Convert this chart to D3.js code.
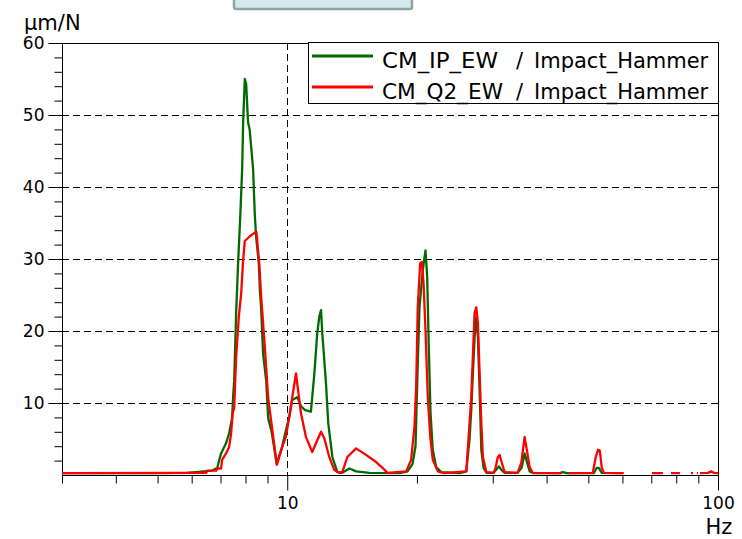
<!DOCTYPE html>
<html>
<head>
<meta charset="utf-8">
<script src="https://cdn.jsdelivr.net/npm/d3@7"></script>
<style>
  body { margin: 0; background: #fff; }
  svg { display: block; font-family: "DejaVu Sans", sans-serif; }
</style>
</head>
<body>
<div class="chart"></div>
<script>
// chart size
var width = 742;
var height = 539;

// series: frequency (Hz) and amplitude (um/N), null = gap
var ipFreq = [3, 5.04, 5.85, 6.41, 6.69, 6.88, 7.02, 7.21, 7.33, 7.45, 7.49, 7.53, 7.61, 7.69, 7.78, 7.86, 7.90, 7.97,
  8.03, 8.11, 8.18, 8.25, 8.33, 8.41, 8.47, 8.59, 8.64, 8.70, 8.79, 8.94, 9.03, 9.20, 9.45, 9.71, 9.93, 10.11, 10.27,
  10.55, 10.78, 11.01, 11.35, 11.56, 11.74, 11.87, 11.98, 12.06, 12.30, 12.45, 12.73, 13.07, 13.42, 13.94, 14.45,
  15.51, 18.22, 19.02, 19.53, 19.85, 20.09, 20.28, 20.64, 20.94, 21.13, 21.31, 21.51, 21.77, 22.17, 22.78, 25.12,
  26.04, 26.50, 26.74, 26.97, 27.22, 27.47, 27.71, 27.96, 28.22, 28.56, 29.03, 30.14, 30.62, 31.00, 31.45, 31.96,
  34.26, 35.00, 35.57, 35.95, 36.54, 37.33, 42.92, 43.61, 44.56, 51.48, 52.31, 52.88, 53.73, 59.79];
var ipVal = [0.25, 0.25, 0.3, 0.5, 0.6, 1.0, 3.0, 4.4, 5.8, 8.0, 11, 13, 22.5, 29.4, 36, 42.6, 49, 55,
  54.3, 49, 48, 45.4, 42.6, 36, 33, 29.4, 25.7, 23, 16.8, 13, 7.9, 6, 1.6, 3.7, 6.2, 8.1, 10.4,
  10.8, 9.5, 9.0, 8.8, 14.1, 19.7, 22, 22.9, 19.7, 12.8, 7.2, 2.5, 0.4, 0.3, 0.9, 0.5,
  0.3, 0.25, 0.5, 1.5, 4, 15.5, 23.3, 28.5, 31.2, 27.5, 17.8, 8.6, 3.5, 1.1, 0.4, 0.25,
  0.5, 5, 9, 14, 19, 22, 19.2, 11.8, 3.5, 1.0, 0.3, 0.3, 0.8, 1.2, 0.7, 0.3,
  0.3, 1.0, 3.0, 2.0, 0.5, 0.25, 0.25, 0.4, 0.25, 0.25, 1.0, 1.0, 0.3, 0.25];

var q2Freq = [3, 5.85, 6.48, 6.52, 6.84, 6.88, 7.02, 7.06, 7.21, 7.33, 7.41, 7.47, 7.53, 7.61, 7.72, 7.82, 7.89, 7.97,
  8.20, 8.48, 8.61, 8.70, 8.87, 9.03, 9.20, 9.46, 9.71, 9.93, 10.11, 10.27, 10.48, 10.55, 10.76, 11.05, 11.43, 11.66,
  11.98, 12.19, 12.52, 12.86, 13.21, 13.42, 13.79, 14.45, 15.24, 16.08, 16.64, 17.09, 18.88, 19.39, 19.74, 19.92,
  20.09, 20.35, 20.53, 20.72, 20.94, 21.20, 21.48, 21.77, 22.37, 23.18, 26.04, 26.50, 26.74, 26.97, 27.22, 27.47,
  27.71, 27.96, 28.22, 28.46, 28.98, 30.14, 30.46, 30.79, 31.12, 31.45, 31.96, 34.26, 34.95, 35.25, 35.57, 35.90,
  36.54, 37.13, 43.38, 44.2, 45.03, 51.20, 52.03, 52.67, 53.16, 53.73, 54.32, 60.44, 65, 70.24, 74.49, 76,
  77.75, 81.59, 84, 86.56, 87.49, 88.4, 89.39, 89.86, 90.3, 90.82, 94.80, 96.34, 97.90, 100];
var q2Val = [0.25, 0.3, 0.3, 0.6, 0.6, 0.9, 0.9, 2.1, 3.0, 3.9, 5.8, 8.6, 9.3, 16.4, 22, 25.3, 29.4, 32.5,
  33.2, 33.8, 29.4, 24.7, 17.8, 10.7, 7, 1.4, 3.7, 5.3, 8.1, 10.8, 14.1, 12.7, 8.6, 5.3, 3.2, 4.4,
  6, 5.1, 2.5, 0.7, 0.3, 0.4, 2.5, 3.7, 2.8, 1.8, 1.0, 0.3, 0.5, 2.1, 6.7, 12.2,
  23.3, 29.4, 29.6, 26.7, 20.1, 10.8, 5.3, 2.1, 0.5, 0.25, 0.5, 7.2, 10.8, 16.4, 22.5, 23.3,
  21.1, 14.2, 7.2, 2.5, 0.4, 0.3, 1.0, 2.4, 2.8, 1.8, 0.4, 0.3, 1.7, 3.5, 5.3, 3.9,
  1.1, 0.3, 0.25, null, 0.25, 0.3, 2.5, 3.5, 3.4, 1.0, 0.3, 0.25, null, 0.25, 0.25, null,
  0.25, 0.25, null, 0.25, 0.25, null, 0.25, 0.25, null, 0.25, 0.3, 0.5, 0.3, 0.25];

var seriesNames = ["CM_IP_EW", "CM_Q2_EW"];
var seriesRef = "Impact_Hammer";
var seriesColors = ["#006b00", "#ff0000"];

// axis ticks
var yMajor = [10, 20, 30, 40, 50, 60];
var yMinor = [2, 4, 6, 8, 12, 14, 16, 18, 22, 24, 26, 28, 32, 34, 36, 38, 42, 44, 46, 48, 52, 54, 56, 58];
var xMajor = [10, 100];
var xMinor = [3, 4, 5, 6, 7, 8, 9, 20, 30, 40, 50, 60, 70, 80, 90];
var xGrid = [10];
var yGrid = [10, 20, 30, 40, 50];

// plot box (window.top is read-only, so keep these in an object)
var plot = {left: 62, right: 718, top: 43, bottom: 475};

var svg = d3.select(".chart").append("svg")
  .attr("width", width)
  .attr("height", height);

var x = d3.scaleLog().domain([3, 100]).range([plot.left, plot.right]);
var y = d3.scaleLinear().domain([0, 60]).range([plot.bottom, plot.top]);

// title tab cut at top of the picture
svg.append("rect")
  .attr("x", 234).attr("y", -10)
  .attr("width", 178).attr("height", 19)
  .attr("rx", 2)
  .attr("fill", "#d3e9eb")
  .attr("stroke", "#8ea3a6")
  .attr("stroke-width", 2.5);

// grid
svg.append("g").selectAll("line").data(yGrid).enter().append("line")
  .attr("x1", plot.left).attr("x2", plot.right)
  .attr("y1", d => y(d) + 0.5).attr("y2", d => y(d) + 0.5)
  .attr("stroke", "#000").attr("stroke-dasharray", "7,4");
svg.append("g").selectAll("line").data(xGrid).enter().append("line")
  .attr("x1", d => Math.round(x(d)) + 0.5).attr("x2", d => Math.round(x(d)) + 0.5)
  .attr("y1", plot.top).attr("y2", plot.bottom)
  .attr("stroke", "#000").attr("stroke-dasharray", "7,4");

// axes
function styleAxis(g) {
  g.select(".domain").remove();
  g.selectAll("line").attr("stroke", "#000");
  g.selectAll("text").attr("fill", "#000").style("font-size", "17px")
    .style("font-family", "DejaVu Sans, sans-serif");
}

svg.append("g").attr("transform", "translate(" + (plot.left + 0.5) + ",0)")
  .call(d3.axisLeft(y).tickValues(yMinor).tickSize(8).tickFormat("").tickSizeOuter(0))
  .call(styleAxis);
svg.append("g").attr("transform", "translate(" + (plot.left + 0.5) + ",0)")
  .call(d3.axisLeft(y).tickValues(yMajor).tickSize(14).tickPadding(4).tickFormat(d3.format("d")).tickSizeOuter(0))
  .call(styleAxis);

svg.append("g").attr("transform", "translate(0," + (plot.bottom + 0.5) + ")")
  .call(d3.axisBottom(x).tickValues(xMinor).tickSize(8).tickFormat("").tickSizeOuter(0))
  .call(styleAxis);
svg.append("g").attr("transform", "translate(0," + (plot.bottom + 0.5) + ")")
  .call(d3.axisBottom(x).tickValues(xMajor).tickSize(15).tickPadding(6).tickFormat(d3.format("d")).tickSizeOuter(0))
  .call(styleAxis);

// plot frame
svg.append("rect")
  .attr("x", plot.left + 0.5).attr("y", plot.top + 0.5)
  .attr("width", plot.right - plot.left).attr("height", plot.bottom - plot.top)
  .attr("fill", "none").attr("stroke", "#000");

// unit labels
svg.append("text").attr("x", 24).attr("y", 30)
  .style("font-size", "21px").attr("fill", "#000").text("\u00b5m/N");
svg.append("text").attr("x", 719).attr("y", 534).attr("text-anchor", "middle")
  .style("font-size", "21px").attr("fill", "#000").text("Hz");

// curves
var line = d3.line()
  .defined(d => d[1] != null)
  .x(d => x(d[0]))
  .y(d => y(d[1]));

var ipData = ipFreq.map((f, i) => [f, ipVal[i]]);
var q2Data = q2Freq.map((f, i) => [f, q2Val[i]]);

svg.append("path").datum(ipData)
  .attr("d", line).attr("fill", "none")
  .attr("stroke", seriesColors[0]).attr("stroke-width", 2.3).attr("stroke-linejoin", "round");
svg.append("path").datum(q2Data)
  .attr("d", line).attr("fill", "none")
  .attr("stroke", seriesColors[1]).attr("stroke-width", 2.3).attr("stroke-linejoin", "round");

// legend
var nameWidths = [116, 121];
var legend = svg.append("g");
legend.append("rect")
  .attr("x", 308.5).attr("y", 42.5).attr("width", 410).attr("height", 61)
  .attr("fill", "#fff").attr("stroke", "#000");
seriesNames.forEach(function(name, i) {
  var ly = 56 + i * 31;
  legend.append("line")
    .attr("x1", 312).attr("x2", 373).attr("y1", ly).attr("y2", ly)
    .attr("stroke", seriesColors[i]).attr("stroke-width", 3);
  legend.append("text").attr("x", 382).attr("y", ly + 12)
    .attr("textLength", nameWidths[i]).attr("lengthAdjust", "spacingAndGlyphs")
    .style("font-size", "21px").attr("fill", "#000").text(name);
  legend.append("text").attr("x", 516).attr("y", ly + 12)
    .style("font-size", "21px").attr("fill", "#000").text("/");
  legend.append("text").attr("x", 534).attr("y", ly + 12)
    .style("font-size", "21px").attr("fill", "#000").text(seriesRef);
});
</script>
</body>
</html>
